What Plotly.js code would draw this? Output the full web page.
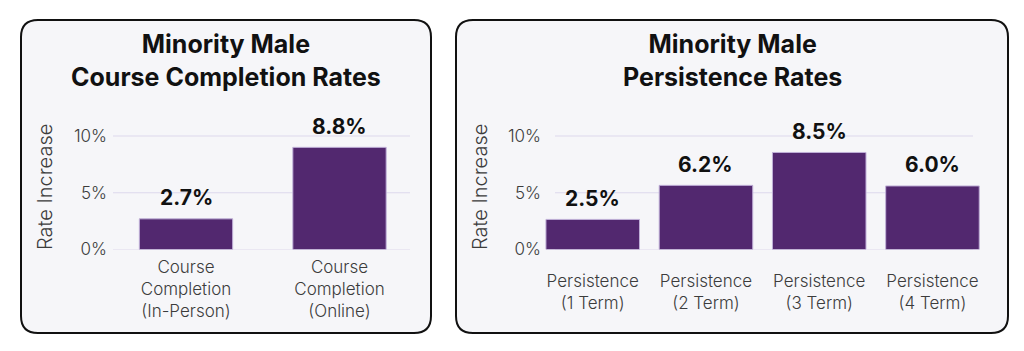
<!DOCTYPE html>
<html>
<head>
<meta charset="utf-8">
<script src="https://cdn.plot.ly/plotly-3.0.1.min.js"></script>
<style>
html,body{margin:0;padding:0;background:#fff;}
#chart{width:1024px;height:351px;}
</style>
</head>
<body>
<div id="chart"></div>
<script>
// ---- data ----
var ccCategories = ['Course<br>Completion<br>(In-Person)', 'Course<br>Completion<br>(Online)'];
var ccValues = [2.7, 9.0];
var ccLabels = ['2.7%', '8.8%'];
var ccTitle = 'Minority Male<br>Course Completion Rates';

var persCategories = ['Persistence<br>(1 Term)', 'Persistence<br>(2 Term)', 'Persistence<br>(3 Term)', 'Persistence<br>(4 Term)'];
var persValues = [2.65, 5.65, 8.55, 5.6];
var persLabels = ['2.5%', '6.2%', '8.5%', '6.0%'];
var persTitle = 'Minority Male<br>Persistence Rates';

var yTickVals = [0, 5, 10];
var yTickText = ['0%', '5%', '10%'];
var yAxisTitle = 'Rate Increase';

// ---- layout helpers (pixel -> paper) ----
var W = 1024, H = 351;
function px(x){ return x / W; }
function py(y){ return 1 - y / H; }

var barColor = '#52286f';
var barLine = '#c0b0d8';
var gridColor = '#ddd8ec';
var panelFill = '#f6f6f9';
var tickColor = '#3c3c3c';
var FONT = 'Inter, Roboto, "DejaVu Sans", sans-serif';

function roundRect(x0, y0, x1, y1, r){
  var rx = r / W, ry = r / H;
  var X0 = px(x0), X1 = px(x1), Y0 = py(y0), Y1 = py(y1);
  return 'M ' + (X0 + rx) + ' ' + Y0 +
    ' L ' + (X1 - rx) + ' ' + Y0 +
    ' Q ' + X1 + ' ' + Y0 + ' ' + X1 + ' ' + (Y0 - ry) +
    ' L ' + X1 + ' ' + (Y1 + ry) +
    ' Q ' + X1 + ' ' + Y1 + ' ' + (X1 - rx) + ' ' + Y1 +
    ' L ' + (X0 + rx) + ' ' + Y1 +
    ' Q ' + X0 + ' ' + Y1 + ' ' + X0 + ' ' + (Y1 + ry) +
    ' L ' + X0 + ' ' + (Y0 - ry) +
    ' Q ' + X0 + ' ' + Y0 + ' ' + (X0 + rx) + ' ' + Y0 + ' Z';
}

var traces = [
  {
    type: 'bar', x: ccCategories, y: ccValues, xaxis: 'x', yaxis: 'y',
    width: 0.608,
    marker: {color: barColor, line: {color: barLine, width: 1}},
    hoverinfo: 'skip', showlegend: false
  },
  {
    type: 'bar', x: persCategories, y: persValues, xaxis: 'x2', yaxis: 'y2',
    width: 0.826,
    marker: {color: barColor, line: {color: barLine, width: 1}},
    hoverinfo: 'skip', showlegend: false
  }
];

var yDomain = [py(249.5), py(124.65)];
var yRange = [0, 11];

function yAxis(pos){
  return {
    domain: yDomain, range: yRange, anchor: 'free', position: pos,
    tickvals: yTickVals, ticktext: yTickText,
    showgrid: false, zeroline: false, showline: false, ticks: '',
    tickfont: {family: FONT, size: 17, color: tickColor, weight: 300},
    fixedrange: true
  };
}
function xAxis(dom, anchor, tl){
  return {
    domain: dom, anchor: anchor, type: 'category',
    showgrid: false, zeroline: false, showline: false,
    ticks: 'outside', ticklen: tl, tickcolor: 'rgba(0,0,0,0)',
    tickfont: {family: FONT, size: 17, color: tickColor, weight: 300},
    fixedrange: true
  };
}

var shapes = [
  {type: 'path', xref: 'paper', yref: 'paper', path: roundRect(21, 20, 431, 333, 17),
   fillcolor: panelFill, line: {color: '#111', width: 2}, layer: 'below'},
  {type: 'path', xref: 'paper', yref: 'paper', path: roundRect(456, 20, 1008, 333, 17),
   fillcolor: panelFill, line: {color: '#111', width: 2}, layer: 'below'}
];
yTickVals.forEach(function(v){
  shapes.push({type: 'line', xref: 'paper', yref: 'y', x0: px(113), x1: px(410), y0: v, y1: v,
    line: {color: gridColor, width: 1}, layer: 'below'});
  shapes.push({type: 'line', xref: 'paper', yref: 'y2', x0: px(555), x1: px(973), y0: v, y1: v,
    line: {color: gridColor, width: 1}, layer: 'below'});
});

var annotations = [];
function titleAnn(text, cx){
  return {text: '<b>' + text + '</b>', xref: 'paper', yref: 'paper', x: px(cx), y: py(60),
    xanchor: 'center', yanchor: 'middle', showarrow: false,
    font: {family: FONT, size: 25, color: '#111'}};
}
annotations.push(titleAnn(ccTitle, 226));
annotations.push(titleAnn(persTitle, 732));

function axTitle(cx){
  return {text: yAxisTitle, xref: 'paper', yref: 'paper', x: px(cx), y: py(187),
    xanchor: 'center', yanchor: 'middle', textangle: -90, showarrow: false,
    font: {family: FONT, size: 20, color: tickColor, weight: 300}};
}
annotations.push(axTitle(45));
annotations.push(axTitle(480));

ccCategories.forEach(function(c, i){
  annotations.push({text: ccLabels[i], x: c, y: ccValues[i], xref: 'x', yref: 'y',
    xanchor: 'center', yanchor: 'middle', yshift: 21, showarrow: false,
    font: {family: FONT, size: 21, color: '#111', weight: 700}});
});
persCategories.forEach(function(c, i){
  annotations.push({text: persLabels[i], x: c, y: persValues[i], xref: 'x2', yref: 'y2',
    xanchor: 'center', yanchor: 'middle', yshift: 21, showarrow: false,
    font: {family: FONT, size: 21, color: '#111', weight: 700}});
});

var layout = {
  width: W, height: H,
  margin: {l: 0, r: 0, t: 0, b: 0, pad: 0},
  paper_bgcolor: '#ffffff', plot_bgcolor: 'rgba(0,0,0,0)',
  showlegend: false,
  xaxis: xAxis([px(109.25), px(416.25)], 'y', 2),
  yaxis: yAxis(px(107)),
  xaxis2: xAxis([px(536.1), px(989.1)], 'y2', 16),
  yaxis2: yAxis(px(541)),
  shapes: shapes,
  annotations: annotations,
  bargap: 0.2
};

Plotly.newPlot('chart', traces, layout, {displayModeBar: false, staticPlot: true});
</script>
</body>
</html>
